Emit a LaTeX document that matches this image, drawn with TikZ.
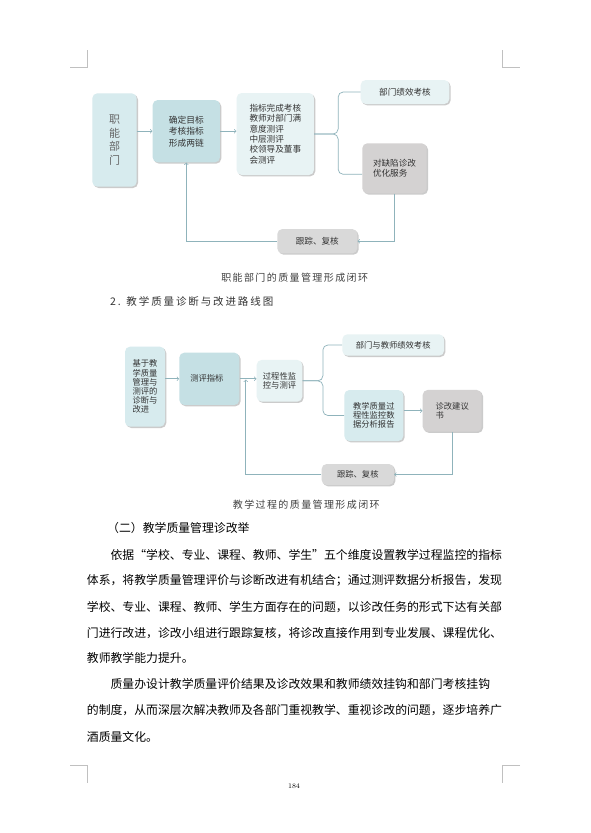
\documentclass[tikz,border=0pt]{standalone}
\usepackage{fontspec}
\usepackage{xcolor}
\usetikzlibrary{shapes,arrows,positioning,calc,shadows}
\newfontfamily\cjk{Noto Sans CJK SC}
\newfontfamily\capcjk[LetterSpace=14]{Noto Sans CJK SC}
\newfontfamily\headcjk[LetterSpace=18]{Noto Sans CJK SC}
\XeTeXlinebreaklocale "zh"
\XeTeXlinebreakskip=0pt plus 1pt

\definecolor{linkblue}{HTML}{8FB3BB}
\definecolor{deptblue}{HTML}{D7EBEE}
\definecolor{goalblue}{HTML}{C5E0E4}
\definecolor{paleblue}{HTML}{E8F3F4}
\definecolor{fixgray}{HTML}{D4D2D2}
\definecolor{trackgray}{HTML}{D9D9D9}
\definecolor{markgray}{HTML}{C0C0C0}

\begin{document}
\begin{tikzpicture}[x=1pt, y=-1pt, >=to,
    box/.style={rounded corners=5pt, inner sep=2pt, align=left, text=black!80,
        font=\cjk\fontsize{8.6}{10.3}\selectfont,
        drop shadow={shadow xshift=1.3pt, shadow yshift=-1.3pt, fill=black!45, opacity=0.45}},
    smallbox/.style={box, font=\cjk\fontsize{8.3}{9.2}\selectfont},
    link/.style={draw=linkblue, line width=0.7pt},
    caption/.style={font=\capcjk\fontsize{10}{12}\selectfont, text=black!75, inner sep=0pt},
    bodyline/.style={font=\cjk\fontsize{11.86}{14}\selectfont, anchor=west, inner sep=0pt}]
    \useasboundingbox (0,0) rectangle (591,833);
    \fill[white] (0,0) rectangle (591,833);

    % crop marks
    \draw[markgray, line width=0.8pt] (70,67) -- (87.3,67) -- (87.3,50);
    \draw[markgray, line width=0.8pt] (502.3,50) -- (502.3,67) -- (520,67);
    \draw[markgray, line width=0.8pt] (70,765) -- (87.7,765) -- (87.7,783);
    \draw[markgray, line width=0.8pt] (520,765) -- (502.3,765) -- (502.3,783);

    % first loop
    \node[box, fill=deptblue, minimum width=44.4, minimum height=93.4, text=black!60,
        font=\cjk\fontsize{11}{13.5}\selectfont] (dept) at (114.5,140) {职\\能\\部\\门};
    \node[box, fill=goalblue, minimum width=67.3, minimum height=62.3,
        font=\cjk\fontsize{8.75}{11.5}\selectfont] (goal) at (186.3,131.2) {确定目标\\考核指标\\形成两链};
    \node[box, fill=paleblue, minimum width=77.3, minimum height=82] (eval) at (275.3,134)
        {指标完成考核\\教师对部门满\\意度测评\\中层测评\\校领导及董事\\会测评};
    \node[box, fill=paleblue, minimum width=88.6, minimum height=24] (perf) at (405,92) {部门绩效考核};
    \node[box, fill=fixgray, minimum width=64.4, minimum height=50] (fix) at (394.5,168.3) {对缺陷诊改\\优化服务};
    \node[box, fill=trackgray, minimum width=80, minimum height=24.3] (track) at (317.3,241.2) {跟踪、复核};
    \coordinate (spine1) at ($(eval.east)+(24,0)$);

    \draw[link,->] (dept.east |- goal.west) -- (goal.west);
    \draw[link,->] (goal.east) -- (goal.east -| eval.west);
    \draw[link, rounded corners=5pt] (eval.east) -- (spine1) |- (perf.west);
    \draw[link, rounded corners=5pt] (eval.east) -- (spine1) |- ($(fix.west)+(0,6)$);
    \draw[link,->] (fix.south) |- (track.east);
    \draw[link,->] (track.west) -| (goal.south);

    \node[caption] (cap1) at (294.7,278) {职能部门的质量管理形成闭环};
    \node[font=\headcjk\fontsize{10.5}{12}\selectfont, text=black!80, anchor=west, inner sep=0pt]
        (head2) at (110,301) {2. 教学质量诊断与改进路线图};

    % second loop
    \node[smallbox, fill=deptblue, minimum width=40, minimum height=80] (base) at (145,386.7)
        {基于教\\学质量\\管理与\\测评的\\诊断与\\改进};
    \node[smallbox, fill=goalblue, text width=38, inner xsep=11, minimum height=52.3] (index) at (209.3,378.8) {测评指标};
    \node[smallbox, fill=paleblue, minimum width=45.6, minimum height=41.7] (proc) at (279.5,380.8) {过程性监\\控与测评};
    \node[smallbox, fill=paleblue, minimum width=101.7, minimum height=21.4] (tperf) at (393.2,345) {部门与教师绩效考核};
    \node[smallbox, fill=deptblue, minimum width=59, minimum height=51] (report) at (373.8,415.5)
        {教学质量过\\程性监控数\\据分析报告};
    \node[smallbox, fill=fixgray, minimum width=59, minimum height=41.7] (advice) at (452.2,410.8) {诊改建议\\书};
    \node[smallbox, fill=trackgray, minimum width=72.3, minimum height=21] (ttrack) at (357.8,474.5) {跟踪、复核};
    \coordinate (join) at ($(index.east)!0.37!(proc.west)$);
    \coordinate (spine2) at ($(proc.east)+(20.4,0)$);

    \draw[link,->] (base.east |- index.west) -- (index.west);
    \draw[link,->] (index.east) -- (index.east -| proc.west);
    \draw[link, rounded corners=5pt] (proc.east) -- (spine2) |- (tperf.west);
    \draw[link, rounded corners=5pt] (proc.east) -- (spine2) |- (report.west);
    \draw[link,->] (report.east |- advice.west) -- (advice.west);
    \draw[link,->] (advice.south) |- (ttrack.east);
    \draw[link,->] (ttrack.west) -| (join);

    \node[caption] (cap2) at (306.3,504.3) {教学过程的质量管理形成闭环};

    % text below
    \node[bodyline] (sec) at (107,528.3) {（二）教学质量管理诊改举};
    \node[bodyline] (l1) at (110.4,555) {\makebox[391.3pt][s]{依据“学校、专业、课程、教师、学生”五个维度设置教学过程监控的指标}};
    \node[bodyline] (l2) at (86.7,580) {\makebox[415pt][s]{体系，将教学质量管理评价与诊断改进有机结合；通过测评数据分析报告，发现}};
    \node[bodyline] (l3) at (86.7,606.7) {\makebox[415pt][s]{学校、专业、课程、教师、学生方面存在的问题，以诊改任务的形式下达有关部}};
    \node[bodyline] (l4) at (86.7,632.7) {\makebox[415pt][s]{门进行改进，诊改小组进行跟踪复核，将诊改直接作用到专业发展、课程优化、}};
    \node[bodyline] (l5) at (86.7,658.3) {教师教学能力提升。};
    \node[bodyline] (l6) at (110.4,684) {\makebox[391.3pt][s]{质量办设计教学质量评价结果及诊改效果和教师绩效挂钩和部门考核挂钩}};
    \node[bodyline] (l7) at (86.7,710) {\makebox[415pt][s]{的制度，从而深层次解决教师及各部门重视教学、重视诊改的问题，逐步培养广}};
    \node[bodyline] (l8) at (86.7,736.7) {酒质量文化。};

    \node[font=\fontsize{7}{8}\selectfont, inner sep=0pt] (page) at (294,786) {184};
\end{tikzpicture}
\end{document}
